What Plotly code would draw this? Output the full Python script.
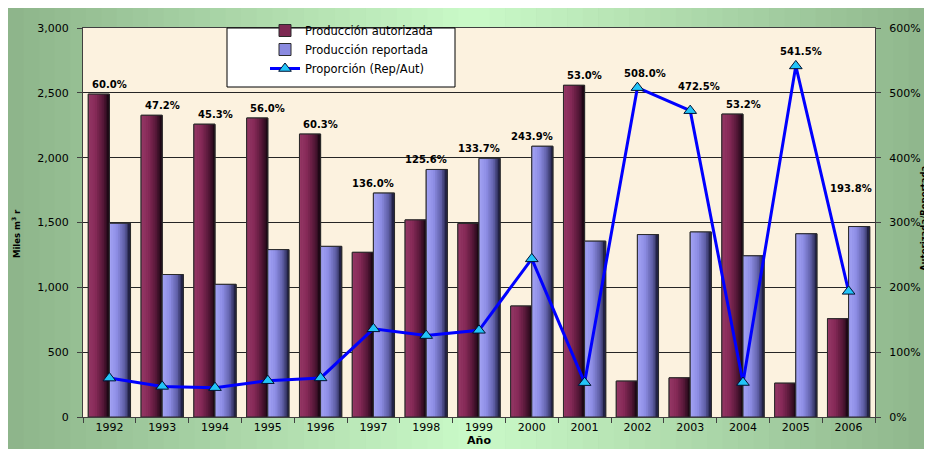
import plotly.graph_objects as go

# ---------------- data ----------------
years = ["1992", "1993", "1994", "1995", "1996", "1997", "1998", "1999",
         "2000", "2001", "2002", "2003", "2004", "2005", "2006"]
autorizada = [2490, 2327, 2258, 2306, 2182, 1270, 1520, 1492,
              856, 2558, 277, 302, 2336, 261, 758]
reportada = [1494, 1099, 1023, 1291, 1316, 1727, 1909, 1995,
             2088, 1356, 1407, 1427, 1243, 1413, 1469]
proporcion = [60.0, 47.2, 45.3, 56.0, 60.3, 136.0, 125.6, 133.7,
              243.9, 53.0, 508.0, 472.5, 53.2, 541.5, 193.8]

y_ticks = [0, 500, 1000, 1500, 2000, 2500, 3000]
y2_ticks = [0, 100, 200, 300, 400, 500, 600]
y2_ticklabels = ["0%", "100%", "200%", "300%", "400%", "500%", "600%"]

# ---------------- geometry / style ----------------
W, H = 932, 449
L, R, T, B = 75, 65, 20, 40
PW, PH = W - L - R, H - T - B
FONT = "DejaVu Sans"
Y_MAX, Y2_MAX = 3000, 600


def hex2rgb(h):
    h = h.lstrip("#")
    return tuple(int(h[i:i + 2], 16) for i in (0, 2, 4))


def rgb2hex(c):
    return "#%02x%02x%02x" % tuple(int(round(v)) for v in c)


def grad(stops, t):
    for (t0, c0), (t1, c1) in zip(stops, stops[1:]):
        if t <= t1:
            f = (t - t0) / (t1 - t0) if t1 > t0 else 0
            a, b = hex2rgb(c0), hex2rgb(c1)
            return rgb2hex([a[i] + (b[i] - a[i]) * f for i in range(3)])
    return stops[-1][1]


fig = go.Figure()

BAR_W = 0.4
N_SLICES = 12
OUTLINE = "#2b2b2b"


def add_bar_series(name, values, offset, stops, legend_color):
    fig.add_trace(go.Bar(
        x=years, y=values, name=name, width=BAR_W, offset=offset,
        marker=dict(color=legend_color, line=dict(color=OUTLINE, width=1)),
        legendgroup=name, hoverinfo="x+y"))
    step = BAR_W / N_SLICES
    for k in range(N_SLICES):
        t = (k + 0.5) / N_SLICES
        w = step * 1.25 if k < N_SLICES - 1 else step
        fig.add_trace(go.Bar(
            x=years, y=values, width=w, offset=offset + k * step,
            marker=dict(color=grad(stops, t), line=dict(width=0)),
            showlegend=False, legendgroup=name, hoverinfo="skip"))
    fig.add_trace(go.Bar(
        x=years, y=values, width=BAR_W, offset=offset,
        marker=dict(color="rgba(0,0,0,0)", line=dict(color=OUTLINE, width=1)),
        showlegend=False, legendgroup=name, hoverinfo="skip"))


maroon_stops = [(0, "#963866"), (0.35, "#862a58"), (0.7, "#561838"), (1.0, "#160510")]
blue_stops = [(0, "#a4a4f4"), (0.35, "#8e8ee6"), (0.7, "#6060a8"), (1.0, "#181836")]

add_bar_series("Producción autorizada", autorizada, -BAR_W, maroon_stops, "#7d2852")
add_bar_series("Producción reportada", reportada, 0.0, blue_stops, "#8a8ae0")

fig.add_trace(go.Scatter(
    x=years, y=proporcion, name="Proporción (Rep/Aut)", yaxis="y2",
    mode="lines+markers",
    line=dict(color="#0000ff", width=3),
    marker=dict(symbol="triangle-up", size=11, color="#22c4f8",
                line=dict(color="#001030", width=1)),
))

# ---------------- data labels ----------------
nudge = {"2002": (8, 0), "2003": (9, 10), "2005": (5, 0), "2006": (2, 29)}
annotations = []
for i, (yr, a, r, p) in enumerate(zip(years, autorizada, reportada, proporcion)):
    line_y = p * Y_MAX / Y2_MAX
    top = max(a, r, line_y)
    shift = 14 if line_y >= max(a, r) else 9.5
    dx, dy = nudge.get(yr, (0, 0))
    annotations.append(dict(
        x=i, y=top, xref="x", yref="y", text="<b>%.1f%%</b>" % p,
        showarrow=False, yanchor="middle", xanchor="center",
        yshift=shift + dy, xshift=dx,
        font=dict(family=FONT, size=10, color="#000000")))

# axis titles (rotated text annotations)
annotations.append(dict(
    xref="paper", yref="paper", x=(8 - L) / PW, y=(409 - 226) / PH,
    text="<b>Miles m<sup>3</sup> r</b>", textangle=-90, showarrow=False,
    xanchor="center", yanchor="middle",
    font=dict(family=FONT, size=8.5, color="#000000")))
annotations.append(dict(
    xref="paper", yref="paper", x=(916 - L) / PW, y=(409 - 210) / PH,
    text="<b>Autorizada/Reportada</b>", textangle=-90, showarrow=False,
    xanchor="center", yanchor="middle",
    font=dict(family=FONT, size=8.5, color="#000000")))

# ---------------- background ----------------
shapes = []
edge, center = (141, 180, 138), (202, 250, 200)
n_strips = 60
for s in range(n_strips):
    x0 = s * W / n_strips
    x1 = (s + 1) * W / n_strips + 0.6
    t = abs((x0 + x1) / 2 - W / 2) / (W / 2)
    col = rgb2hex([center[i] + (edge[i] - center[i]) * t for i in range(3)])
    shapes.append(dict(type="rect", xref="paper", yref="paper",
                       x0=(x0 - L) / PW, x1=(x1 - L) / PW,
                       y0=-B / PH - 0.01, y1=1 + T / PH + 0.01,
                       fillcolor=col, line=dict(width=0), layer="below"))
shapes.append(dict(type="rect", xref="paper", yref="paper", x0=0, x1=1, y0=0, y1=1,
                   fillcolor="#fcf2df", line=dict(width=0), layer="below"))
# legend frame
shapes.append(dict(type="rect", xref="paper", yref="paper",
                   x0=(219 - L) / PW, x1=(447 - L) / PW,
                   y0=(409 - 79) / PH, y1=1.0,
                   fillcolor="#ffffff", line=dict(color="#000000", width=1),
                   layer="above"))

fig.update_layout(
    width=W, height=H,
    margin=dict(l=L, r=R, t=T, b=B, pad=0, autoexpand=False),
    paper_bgcolor="#8db48a",
    plot_bgcolor="rgba(0,0,0,0)",
    barmode="overlay",
    font=dict(family=FONT, size=11, color="#000000"),
    shapes=shapes,
    annotations=annotations,
    showlegend=True,
    legend=dict(xref="container", yref="container",
                x=257 / W, y=1 - 8 / H, xanchor="left", yanchor="top",
                bgcolor="rgba(0,0,0,0)", borderwidth=0,
                font=dict(family=FONT, size=11.5, color="#000000"),
                traceorder="normal"),
    xaxis=dict(type="category", categoryorder="array", categoryarray=years,
               range=[-0.5, len(years) - 0.5], automargin=False,
               showgrid=False, showline=True, linecolor="#404040", linewidth=1,
               mirror=True, ticks="outside", tickson="boundaries", ticklen=5,
               tickcolor="#404040",
               tickfont=dict(family=FONT, size=11),
               title=dict(text="<b>Año</b>", standoff=2,
                          font=dict(family=FONT, size=11))),
    yaxis=dict(range=[0, Y_MAX], tickvals=y_ticks, tickformat=",",
               automargin=False,
               showgrid=True, gridcolor="#262626", gridwidth=1,
               showline=True, linecolor="#404040", linewidth=1,
               ticks="outside", ticklen=5, tickcolor="#404040", zeroline=False,
               ticklabelstandoff=6,
               tickfont=dict(family=FONT, size=11)),
    yaxis2=dict(range=[0, Y2_MAX], tickvals=y2_ticks, ticktext=y2_ticklabels,
                overlaying="y", side="right", showgrid=False, automargin=False,
                showline=True, linecolor="#404040", linewidth=1,
                ticks="outside", ticklen=5, tickcolor="#404040", zeroline=False,
                ticklabelstandoff=6,
                tickfont=dict(family=FONT, size=11)),
)

fig.write_html("out.html")
